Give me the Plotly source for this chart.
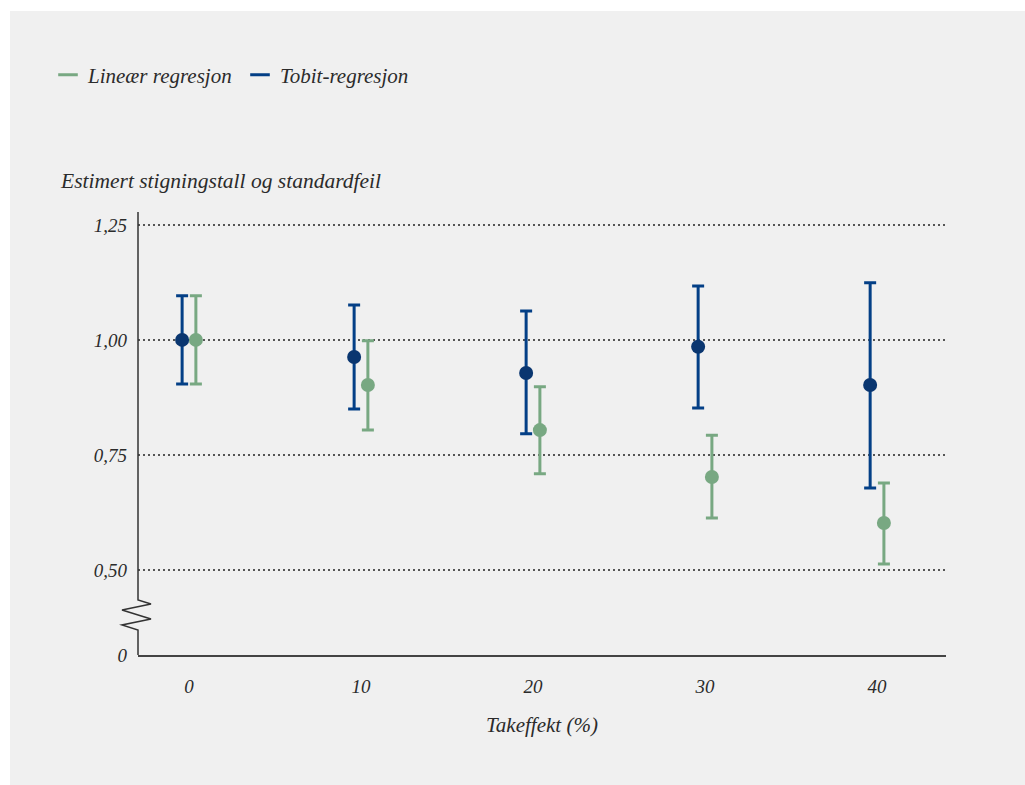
import plotly.graph_objects as go

categories = [0, 10, 20, 30, 40]
tobit_est = [1.000, 0.963, 0.928, 0.985, 0.902]
tobit_hi = [1.096, 1.076, 1.063, 1.117, 1.124]
tobit_lo = [0.904, 0.850, 0.796, 0.852, 0.678]
lin_est = [1.000, 0.902, 0.804, 0.702, 0.602]
lin_hi = [1.096, 0.998, 0.898, 0.793, 0.689]
lin_lo = [0.904, 0.804, 0.709, 0.613, 0.513]

y_tickvals = [0.3152, 0.50, 0.75, 1.00, 1.25]
y_ticktext = ["0", "0,50", "0,75", "1,00", "1,25"]
x_ticktext = ["0", "10", "20", "30", "40"]

BLUE = "#033f86"
BLUE_DOT = "#0a3670"
GREEN = "#78a882"
TXT = "#2b2b2b"
PANEL = "#f0f0f0"
FONT = "Liberation Serif"

offset = 0.4

fig = go.Figure()

fig.add_trace(go.Scatter(
    x=[c - offset for c in categories], y=tobit_est, mode="markers",
    marker=dict(color=BLUE_DOT, size=14),
    error_y=dict(type="data", symmetric=False,
                 array=[h - e for h, e in zip(tobit_hi, tobit_est)],
                 arrayminus=[e - l for e, l in zip(tobit_est, tobit_lo)],
                 color=BLUE, thickness=3, width=6),
    showlegend=False, hoverinfo="skip"))

fig.add_trace(go.Scatter(
    x=[c + offset for c in categories], y=lin_est, mode="markers",
    marker=dict(color=GREEN, size=14),
    error_y=dict(type="data", symmetric=False,
                 array=[h - e for h, e in zip(lin_hi, lin_est)],
                 arrayminus=[e - l for e, l in zip(lin_est, lin_lo)],
                 color=GREEN, thickness=3, width=6),
    showlegend=False, hoverinfo="skip"))

# legend-only traces
fig.add_trace(go.Scatter(x=[None], y=[None], mode="markers", name="Lineær regresjon",
                         marker=dict(symbol="line-ew", size=14, line=dict(color=GREEN, width=3))))
fig.add_trace(go.Scatter(x=[None], y=[None], mode="markers", name="Tobit-regresjon",
                         marker=dict(symbol="line-ew", size=14, line=dict(color=BLUE, width=3))))

# body margin is removed by the post script, so figure coords = screen coords
W, H = 1025, 785
L, T = 138, 212
pw, ph = 808, 443
R, B = W - L - pw, H - T - ph


def px(x):  # screen x -> paper x
    return (x - L) / pw


def py(y):  # screen y -> paper y
    return (T + ph - y) / ph


shapes = [
    # white frame on the left and top of the grey panel
    dict(type="rect", xref="paper", yref="paper", x0=px(-20), x1=px(10), y0=py(820), y1=py(-20),
         fillcolor="white", line=dict(width=0), layer="below"),
    dict(type="rect", xref="paper", yref="paper", x0=px(-20), x1=px(1060), y0=py(11), y1=py(-20),
         fillcolor="white", line=dict(width=0), layer="below"),
    # y axis line with break
    dict(type="path", xref="paper", yref="paper",
         path=(f"M {px(138)} {py(212)} L {px(138)} {py(600)} L {px(151)} {py(604)} "
               f"L {px(122)} {py(610)} L {px(151)} {py(619)} L {px(122)} {py(625)} "
               f"L {px(138)} {py(630)} L {px(138)} {py(655)}"),
         line=dict(color="#333333", width=1.5), layer="above"),
]

fig.update_layout(
    width=W, height=H,
    margin=dict(l=L, r=R, t=T, b=B),
    paper_bgcolor=PANEL, plot_bgcolor="rgba(0,0,0,0)",
    font=dict(family=FONT, size=19, color=TXT),
    shapes=shapes,
    showlegend=True,
    legend=dict(orientation="h", x=px(48), y=py(75), xanchor="left", yanchor="middle",
                font=dict(family=FONT, size=21, color=TXT, style="italic"),
                itemwidth=30, entrywidth=147, entrywidthmode="pixels",
                bgcolor="rgba(0,0,0,0)", traceorder="normal"),
    annotations=[dict(text="Estimert stigningstall og standardfeil", xref="paper", yref="paper",
                      x=px(58), y=py(181), xanchor="left", yanchor="middle", showarrow=False,
                      font=dict(family=FONT, size=21.5, color=TXT, style="italic"))],
    xaxis=dict(range=[-2.965, 44.01], tickvals=categories, ticktext=x_ticktext,
               showgrid=False, zeroline=False, showline=True, linecolor="#444444", linewidth=2,
               ticks="", ticklabelstandoff=13,
               tickfont=dict(family=FONT, size=19, color=TXT, style="italic"),
               title=dict(text="Takeffekt (%)", standoff=22,
                          font=dict(family=FONT, size=21, color=TXT, style="italic"))),
    yaxis=dict(range=[0.3152, 1.278], tickvals=y_tickvals, ticktext=y_ticktext,
               showgrid=True, gridcolor="#555555", griddash="2px,3px", gridwidth=1.5,
               zeroline=False, showline=False, ticks="", ticklabelstandoff=10,
               tickfont=dict(family=FONT, size=19, color=TXT, style="italic")),
)

fig.write_html(
    "out.html",
    config={"displayModeBar": False},
    post_script=(
        "document.body.style.margin='0';"
        "document.documentElement.style.overflow='hidden';"
        "document.body.style.overflow='hidden';"
        f"document.documentElement.style.background='{PANEL}';"
        f"document.body.style.background='{PANEL}';"
    ),
)
